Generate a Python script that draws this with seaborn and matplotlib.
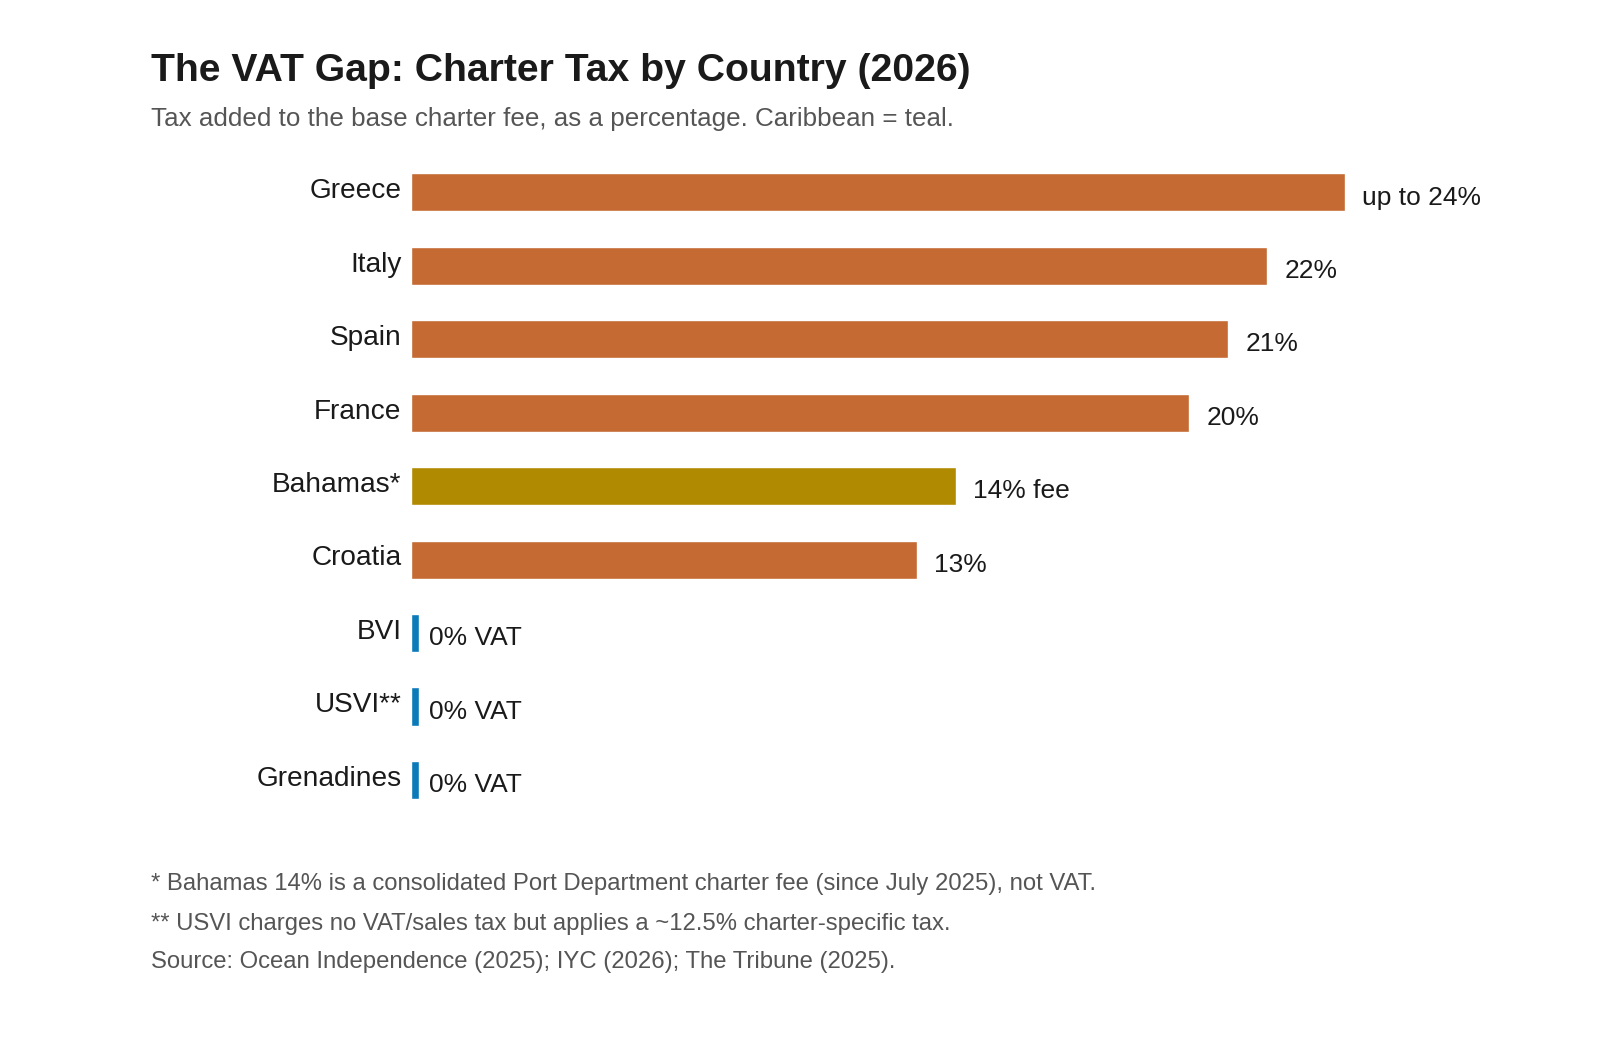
#!/usr/bin/env python3
"""
The VAT Gap - charter tax by country (2026)
Horizontal bar chart, Caribbean bars in teal/blue.
"""

import numpy as np
import pandas as pd
import matplotlib
matplotlib.use("Agg")
import matplotlib.pyplot as plt
import matplotlib.transforms as mtransforms
import seaborn as sns

# Data
countries = ["Greece", "Italy", "Spain", "France", "Bahamas*",
             "Croatia", "BVI", "USVI**", "Grenadines"]
tax_rates = [24, 22, 21, 20, 14, 13, 0, 0, 0]
value_labels = ["up to 24%", "22%", "21%", "20%", "14% fee",
                "13%", "0% VAT", "0% VAT", "0% VAT"]
regions = ["Mediterranean", "Mediterranean", "Mediterranean", "Mediterranean",
           "Bahamas", "Mediterranean", "Caribbean", "Caribbean", "Caribbean"]

title = "The VAT Gap: Charter Tax by Country (2026)"
subtitle = "Tax added to the base charter fee, as a percentage. Caribbean = teal."
footnotes = [
    "* Bahamas 14% is a consolidated Port Department charter fee (since July 2025), not VAT.",
    "** USVI charges no VAT/sales tax but applies a ~12.5% charter-specific tax.",
    "Source: Ocean Independence (2025); IYC (2026); The Tribune (2025).",
]

palette = {
    "Mediterranean": "#C46A32",
    "Bahamas": "#B08A00",
    "Caribbean": "#0A7AB8",
}


def main():
    sns.set_theme(style="white")
    plt.rcParams["font.family"] = ["Liberation Sans", "DejaVu Sans"]

    # zero-rate bars get a thin stub so they still show up
    stub = 0.2
    df = pd.DataFrame({
        "country": countries,
        "rate": tax_rates,
        "label": value_labels,
        "region": regions,
    })
    df["bar"] = np.maximum(df["rate"], stub)

    fig = plt.figure(figsize=(16, 10.59), dpi=100)
    ax = fig.add_axes([0.2569, 0.2288, 0.6687, 0.6242])

    sns.barplot(data=df, x="bar", y="country", hue="region", palette=palette,
                orient="h", width=0.52, dodge=False, legend=False,
                saturation=1, ax=ax)

    # value labels at the bar ends
    for i, row in df.iterrows():
        ax.text(row["rate"] + 0.45, i + 0.07, row["label"], va="center",
                ha="left", fontsize=19, color="#1a1a1a")

    ax.set_xlim(0, 27.5)
    ax.set_ylim(8.5, -0.5)
    ax.set_xlabel("")
    ax.set_ylabel("")
    ax.set_xticks([])
    ax.tick_params(axis="y", length=0, pad=7, labelsize=20.2,
                   labelcolor="#1a1a1a")
    # nudge the country names up a touch
    lift = mtransforms.ScaledTranslation(0, 3 / 72, fig.dpi_scale_trans)
    for lbl in ax.get_yticklabels():
        lbl.set_verticalalignment("center_baseline")
        lbl.set_transform(lbl.get_transform() + lift)
    sns.despine(ax=ax, left=True, bottom=True)

    # title block
    fig.text(0.0944, 0.9325, title, fontsize=28.2, fontweight="bold",
             color="#1a1a1a", va="center", ha="left")
    fig.text(0.0944, 0.8880, subtitle, fontsize=18.7, color="#555555",
             va="center", ha="left")

    # footnotes
    for y, note in zip([0.1655, 0.1279, 0.0912], footnotes):
        fig.text(0.0944, y, note, fontsize=17.2, color="#555555",
                 va="center", ha="left")

    fig.savefig("out.png", dpi=100, facecolor="white")


if __name__ == "__main__":
    main()
